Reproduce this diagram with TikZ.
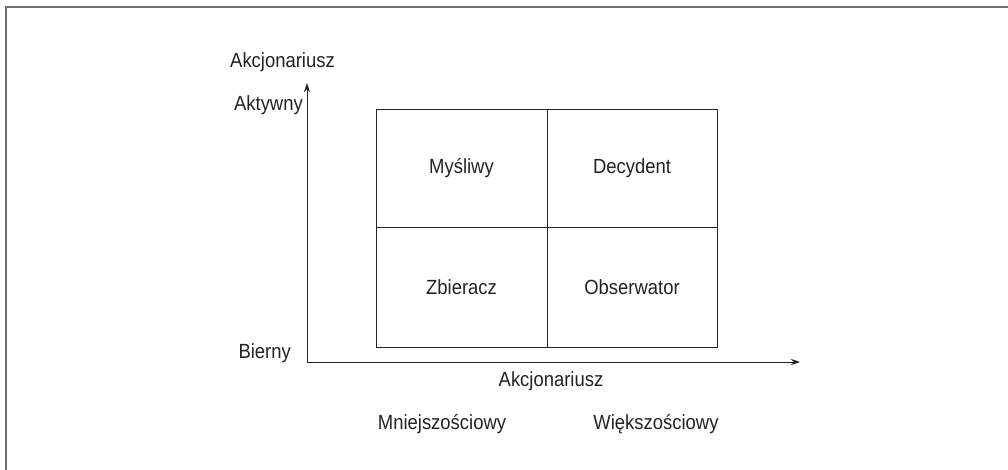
\documentclass[tikz,border=0pt]{standalone}
\usepackage{fontspec}
\setmainfont[FakeStretch=0.9]{Liberation Sans}
\usetikzlibrary{arrows.meta}
\definecolor{ink}{HTML}{222222}
\definecolor{framegray}{HTML}{6E6E6E}
\begin{document}
\begin{tikzpicture}[x=1pt,y=-1pt,
  lbl/.style={font=\fontsize{20.5}{22}\selectfont, text=ink, inner sep=0pt},
  cell/.style={draw=ink, line width=1pt, inner sep=0pt, lbl},
  axis/.style={draw=ink, line width=1pt, -{Stealth[length=9pt,width=6pt]}}]
  \useasboundingbox (0,0) rectangle (1008,469);
  % outer frame (open on the right and bottom)
  \draw[framegray, line width=2pt] (6,471) -- (6,7) -- (1010,7);
  % quadrant cells
  \node[cell, minimum width=171pt, minimum height=118pt] (hunter)   at (461.5,168) {Myśliwy};
  \node[cell, minimum width=170pt, minimum height=118pt] (decider)  at (632,168)   {Decydent};
  \node[cell, minimum width=171pt, minimum height=120pt] (gatherer) at (461.5,287) {Zbieracz};
  \node[cell, minimum width=170pt, minimum height=120pt] (observer) at (632,287)   {Obserwator};
  % axes
  \coordinate (origin) at (307,362);
  \coordinate (ytip) at (307,83);
  \coordinate (xtip) at (800,362);
  \draw[axis] (origin) -- (ytip);
  \draw[axis] (origin) -- (xtip);
  % axis labels
  \node[lbl, anchor=east] (ytitle) at (335,62)  {Akcjonariusz};
  \node[lbl, anchor=east] (active) at (303,105) {Aktywny};
  \node[lbl, anchor=east] (passive) at (291,353) {Bierny};
  \node[lbl] (xtitle) at (551,381) {Akcjonariusz};
  \node[lbl] (minority) at (442,424) {Mniejszościowy};
  \node[lbl] (majority) at (656,424) {Większościowy};
\end{tikzpicture}
\end{document}
